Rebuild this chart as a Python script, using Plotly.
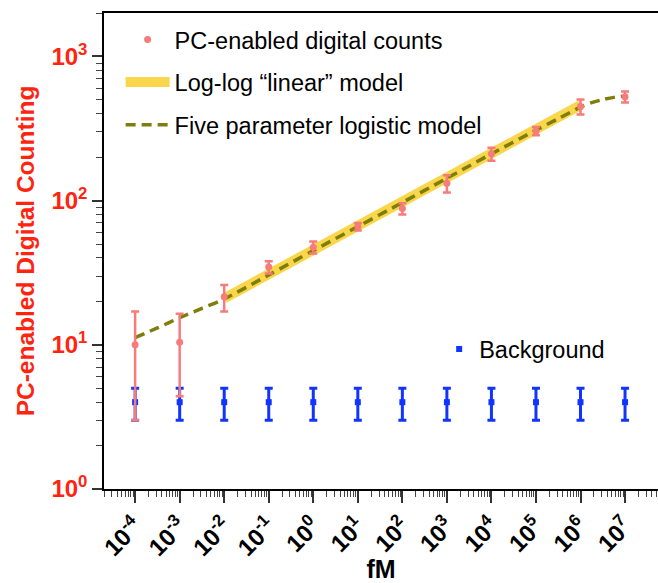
import plotly.graph_objects as go

# Concentrations (fM) and measured PC-enabled digital counts
conc = [1e-4, 1e-3, 1e-2, 1e-1, 1e0, 1e1, 1e2, 1e3, 1e4, 1e5, 1e6, 1e7]
counts = [10.0, 10.4, 21.5, 34.6, 47.5, 66.0, 88.0, 132.0, 211.0, 304.0, 449.0, 525.0]
counts_err = [7.0, 6.0, 4.5, 3.4, 4.5, 4.0, 8.0, 18.0, 22.0, 20.0, 53.0, 46.0]

# Background counts at each concentration
bg_counts = [4.0] * 12
bg_err = [1.0] * 12

# Log-log "linear" model over its fitted range
lin_x = [1e-2, 1e6]
lin_y = [21.0, 460.0]

# Five parameter logistic model, sampled along the curve
fpl_x = [1e-4, 10**-3.5, 1e-3, 10**-2.5, 1e-2, 1e-1, 1e0, 1e1, 1e2, 1e3, 1e4,
         1e5, 10**5.5, 1e6, 10**6.25, 10**6.5, 10**6.75, 1e7]
fpl_y = [11.2, 13.1, 15.4, 17.9, 20.8, 30.5, 45.0, 66.0, 97.0, 143.0, 211.0,
         308.0, 370.0, 445.0, 478.0, 502.0, 520.0, 530.0]

# Axis ticks
x_ticks = [10.0**e for e in range(-4, 8)]
x_ticktext = [f"10<sup>{e}</sup>" for e in range(-4, 8)]
y_ticks = [1, 10, 100, 1000]
y_ticktext = ["10<sup>0</sup>", "10<sup>1</sup>", "10<sup>2</sup>", "10<sup>3</sup>"]
x_minor = [k * 10.0**e for e in range(-5, 8) for k in range(2, 10)]
y_minor = [k * 10.0**e for e in range(0, 4) for k in range(2, 10)]

FONT = "Liberation Sans, Arial, Helvetica, sans-serif"
RED_TXT = "#FF2410"
SALMON = "#F67B7B"
BLUE = "#1234FF"
GOLD = "#F9D64C"
OLIVE = "#7E7E08"

fig = go.Figure()

fig.add_trace(go.Scatter(
    x=lin_x, y=lin_y, mode="lines", name="Log-log \u201clinear\u201d model",
    line=dict(color=GOLD, width=10), legend="legend", legendrank=2,
    legendgroup="lin",
))
fig.add_trace(go.Scatter(
    x=fpl_x, y=fpl_y, mode="lines", name="Five parameter logistic model",
    line=dict(color=OLIVE, width=3.5, dash="10px,6px", shape="spline", smoothing=0.8),
    legend="legend", legendrank=3, legendgroup="fpl",
))
fig.add_trace(go.Scatter(
    x=conc, y=bg_counts, mode="markers", name="Background",
    marker=dict(color=BLUE, size=6, symbol="square"),
    error_y=dict(type="data", array=bg_err, color=BLUE, thickness=3, width=4),
    legend="legend2",
))
fig.add_trace(go.Scatter(
    x=conc, y=counts, mode="markers", name="PC-enabled digital counts",
    marker=dict(color=SALMON, size=7),
    error_y=dict(type="data", array=counts_err, color=SALMON, thickness=2.5, width=4),
    legend="legend", legendrank=1, legendgroup="pc",
))

fig.update_layout(
    width=658, height=583,
    margin=dict(l=104, r=0, t=13, b=83),
    paper_bgcolor="white", plot_bgcolor="white",
    font=dict(family=FONT, color="black"),
    legend=dict(
        x=0.03, y=0.99, xanchor="left", yanchor="top",
        font=dict(size=23.5, color="black"), bgcolor="rgba(0,0,0,0)",
        tracegroupgap=9, traceorder="grouped", itemwidth=44,
    ),
    legend2=dict(
        x=0.605, y=0.34, xanchor="left", yanchor="top",
        font=dict(size=23.5, color="black"), bgcolor="rgba(0,0,0,0)",
    ),
    xaxis=dict(
        type="log", range=[-4.699, 7.74],
        showline=True, linecolor="black", linewidth=1.5, mirror=True,
        showgrid=False, zeroline=False,
        ticks="outside", ticklen=12, tickwidth=1.5, tickcolor="#333",
        tickmode="array", tickvals=x_ticks, ticktext=x_ticktext, tickangle=-45,
        tickfont=dict(family=FONT, size=24, color="black", weight="bold"),
        minor=dict(ticks="outside", ticklen=6, tickwidth=1, tickcolor="#444",
                   tickmode="array", tickvals=x_minor, showgrid=False),
        title=dict(text="fM", font=dict(family=FONT, size=25, color="black", weight="bold"),
                   standoff=4),
    ),
    yaxis=dict(
        type="log", range=[0, 3.301],
        showline=True, linecolor="black", linewidth=1.5,
        showgrid=False, zeroline=False,
        ticks="outside", ticklen=10, tickwidth=1.5, tickcolor="#333",
        tickmode="array", tickvals=y_ticks, ticktext=y_ticktext,
        tickfont=dict(family=FONT, size=24, color=RED_TXT, weight="bold"),
        minor=dict(ticks="outside", ticklen=6, tickwidth=1, tickcolor="#444",
                   tickmode="array", tickvals=y_minor, showgrid=False),
        title=dict(text="PC-enabled Digital Counting",
                   font=dict(family=FONT, size=24.5, color=RED_TXT, weight="bold"),
                   standoff=10),
    ),
)

fig.write_html("out.html")
